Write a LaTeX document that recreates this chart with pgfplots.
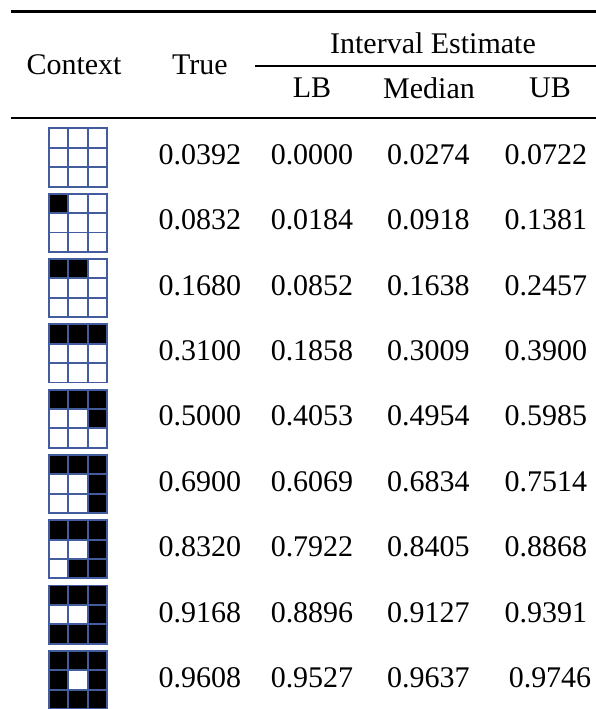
\documentclass[border=0pt]{standalone}
\usepackage{pgfplots}
\pgfplotsset{compat=1.18}
\usepackage{pgfplotstable}
\usepackage{fontspec}
\setmainfont{Liberation Serif}
\definecolor{gridblue}{RGB}{66,92,158}

\pgfplotstableread{
y ux tru lb med ub
155 546 0.0392 0.0000 0.0274 0.0722
220 546 0.0832 0.0184 0.0918 0.1381
286 546 0.1680 0.0852 0.1638 0.2457
351 546 0.3100 0.1858 0.3009 0.3900
416 546 0.5000 0.4053 0.4954 0.5985
482 546 0.6900 0.6069 0.6834 0.7514
547 546 0.8320 0.7922 0.8405 0.8868
613 546 0.9168 0.8896 0.9127 0.9391
678 550 0.9608 0.9527 0.9637 0.9746
}\values

% context icons: icon k (0..8), column c, row r, black b
\pgfplotstableread{
k c r b
0 0 0 0
0 1 0 0
0 2 0 0
0 0 1 0
0 1 1 0
0 2 1 0
0 0 2 0
0 1 2 0
0 2 2 0
1 0 0 1
1 1 0 0
1 2 0 0
1 0 1 0
1 1 1 0
1 2 1 0
1 0 2 0
1 1 2 0
1 2 2 0
2 0 0 1
2 1 0 1
2 2 0 0
2 0 1 0
2 1 1 0
2 2 1 0
2 0 2 0
2 1 2 0
2 2 2 0
3 0 0 1
3 1 0 1
3 2 0 1
3 0 1 0
3 1 1 0
3 2 1 0
3 0 2 0
3 1 2 0
3 2 2 0
4 0 0 1
4 1 0 1
4 2 0 1
4 0 1 0
4 1 1 0
4 2 1 1
4 0 2 0
4 1 2 0
4 2 2 0
5 0 0 1
5 1 0 1
5 2 0 1
5 0 1 0
5 1 1 0
5 2 1 1
5 0 2 0
5 1 2 0
5 2 2 1
6 0 0 1
6 1 0 1
6 2 0 1
6 0 1 0
6 1 1 0
6 2 1 1
6 0 2 0
6 1 2 1
6 2 2 1
7 0 0 1
7 1 0 1
7 2 0 1
7 0 1 0
7 1 1 0
7 2 1 1
7 0 2 1
7 1 2 1
7 2 2 1
8 0 0 1
8 1 0 1
8 2 0 1
8 0 1 1
8 1 1 0
8 2 1 1
8 0 2 1
8 1 2 1
8 2 2 1
}\cells

\begin{document}
\begin{tikzpicture}
\begin{axis}[
  scale only axis, width=298pt, height=354.5pt,
  xmin=0, xmax=596, ymin=0, ymax=709, y dir=reverse,
  hide axis, clip=false,
  every node near coord/.append style={anchor=center, inner sep=0pt, font=\fontsize{15}{18}\selectfont, text=black},
]
% rules
\addplot[black, line width=1.5pt] coordinates {(11,11) (596,11)};
\addplot[black, line width=0.7pt] coordinates {(255,66) (596,66)};
\addplot[black, line width=1pt] coordinates {(11,118) (596,118)};

% headers
\node[inner sep=0pt, font=\fontsize{15}{18}\selectfont] at (axis cs:74,65) {Context};
\node[inner sep=0pt, font=\fontsize{15}{18}\selectfont] at (axis cs:200,65) {True};
\node[inner sep=0pt, font=\fontsize{15}{18}\selectfont] at (axis cs:433,43) {Interval Estimate};
\node[inner sep=0pt, font=\fontsize{15}{18}\selectfont] at (axis cs:312,88) {LB};
\node[inner sep=0pt, font=\fontsize{15}{18}\selectfont] at (axis cs:429,88) {Median};
\node[inner sep=0pt, font=\fontsize{15}{18}\selectfont] at (axis cs:550,88) {UB};

% values
\addplot[draw=none, nodes near coords, point meta=explicit symbolic] table[x expr=200, y=y, meta=tru] {\values};
\addplot[draw=none, nodes near coords, point meta=explicit symbolic] table[x expr=312, y=y, meta=lb] {\values};
\addplot[draw=none, nodes near coords, point meta=explicit symbolic] table[x expr=428.5, y=y, meta=med] {\values};
\addplot[draw=none, nodes near coords, point meta=explicit symbolic] table[x=ux, y=y, meta=ub] {\values};

% icons
\addplot[only marks, mark=square*, mark size=4.85pt,
  mark options={fill=white, draw=gridblue, line width=0.95pt}]
  table[x expr=58.5+19.4*\thisrow{c}, y expr=138.1+65.3*\thisrow{k}+19.4*\thisrow{r}] {\cells};
\addplot[only marks, mark=square*, mark size=4.85pt,
  mark options={fill=black, draw=gridblue, line width=0.95pt},
  restrict expr to domain={\thisrow{b}}{0.5:1.5}]
  table[x expr=58.5+19.4*\thisrow{c}, y expr=138.1+65.3*\thisrow{k}+19.4*\thisrow{r}] {\cells};
\end{axis}
\pgfresetboundingbox
\path (0,0) rectangle (298pt,354.5pt);
\end{tikzpicture}
\end{document}
